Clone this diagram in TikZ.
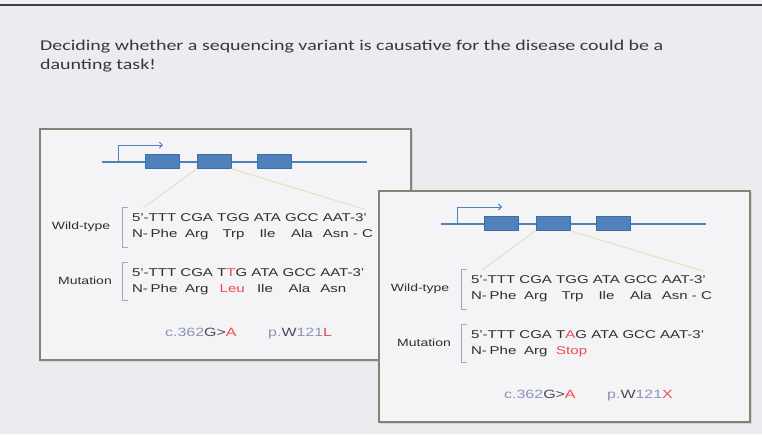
\documentclass[tikz,border=0pt]{standalone}
\usepackage{fontspec}
\setmainfont{Liberation Sans}
\newfontfamily\titlefont{Carlito}
\usepackage{graphicx}
\usetikzlibrary{arrows.meta}
\definecolor{bg}{HTML}{ECEBEF}
\definecolor{boxfill}{HTML}{F4F4F6}
\definecolor{boxline}{HTML}{858474}
\definecolor{exon}{HTML}{4F81BD}
\definecolor{exonline}{HTML}{3E6DA6}
\definecolor{zoomline}{HTML}{E2DDB0}
\definecolor{brk}{HTML}{A4A8BC}
\definecolor{txt}{HTML}{2E2E30}
\definecolor{mut}{HTML}{EE4A50}
\definecolor{hgvs}{HTML}{8A94B8}
\definecolor{hgvsdark}{HTML}{4A4B55}
\newcommand{\stx}[1]{\scalebox{1.33}[1]{#1}}
\newcommand{\cgap}{4.2pt}
\newcommand{\dnarow}[4]{%
  \node[dna] (#1-0) at (#2,#3) {\stx{5'-}};
  \node[dna] (#1-1) at (#1-0.base east) {\stx{TTT}};
  \node[dna] (#1-2) at ([xshift=\cgap]#1-1.base east) {\stx{CGA}};
  \node[dna] (#1-3) at ([xshift=\cgap]#1-2.base east) {\stx{#4}};
  \node[dna] (#1-4) at ([xshift=\cgap]#1-3.base east) {\stx{ATA}};
  \node[dna] (#1-5) at ([xshift=\cgap]#1-4.base east) {\stx{GCC}};
  \node[dna] (#1-6) at ([xshift=\cgap]#1-5.base east) {\stx{AAT-3'}};
}
\newcommand{\genepart}[1]{%
  \coordinate (#1-g0) at (102,162);
  \coordinate (#1-g1) at (367,162);
  \draw[geneline] (#1-g0) -- (#1-g1);
  \coordinate (#1-p0) at (118,162);
  \coordinate (#1-p1) at (118,145);
  \coordinate (#1-p2) at (163,145);
  \draw[promoter] (#1-p0) -- (#1-p1) -- (#1-p2);
  \node[exonbox] (#1-e1) at (162.5,161.5) {};
  \node[exonbox] (#1-e2) at (214,161.5) {};
  \node[exonbox] (#1-e3) at (274,161.5) {};
  \coordinate (#1-z1) at (143,208);
  \coordinate (#1-z2) at (364,209);
  \draw[zline] (#1-e2.south west) -- (#1-z1);
  \draw[zline] (#1-e2.south east) -- (#1-z2);
  \draw[brack] (128,207) -- (122,207) -- (122,247) -- (128,247);
  \draw[brack] (128,262) -- (122,262) -- (122,300) -- (128,300);
  \node[lbl] (#1-wt) at (81,227) {\stx{Wild-type}};
  \node[lbl] (#1-mu) at (85,281) {\stx{Mutation}};
}
\begin{document}
\begin{tikzpicture}[x=1pt,y=-1pt,
  dna/.style={inner sep=0, outer sep=0, text=txt, anchor=base west, font=\fontsize{11.3}{13}\selectfont},
  prot/.style={inner sep=0, outer sep=0, text=txt, anchor=base, font=\fontsize{11.3}{13}\selectfont},
  protw/.style={prot, anchor=base west},
  lbl/.style={inner sep=0, text=txt, font=\fontsize{10.5}{12}\selectfont},
  code/.style={inner sep=0, anchor=base west, font=\fontsize{12}{14}\selectfont},
  panelbox/.style={draw=boxline, line width=1.5pt, fill=boxfill, anchor=north west, minimum width=371pt, minimum height=231pt, inner sep=0},
  shadowbox/.style={fill=black!22, draw=none, anchor=north west, minimum width=372pt, minimum height=232pt, inner sep=0, opacity=0.6},
  exonbox/.style={fill=exon, draw=exonline, line width=0.6pt, minimum width=34pt, minimum height=14pt, inner sep=0},
  geneline/.style={draw=exon, line width=1.4pt},
  promoter/.style={draw=exon, line width=0.9pt, -{Straight Barb[length=3pt,width=6pt]}},
  zline/.style={draw=zoomline, line width=0.8pt},
  brack/.style={draw=brk, line width=0.9pt}]
\useasboundingbox (0,0) rectangle (762,434);
\fill[bg] (0,0) rectangle (762,434);
\fill[black!6] (0,0) rectangle (762,4.5);
\draw[black!75, line width=1.5pt] (0,5) -- (762,5);
\node[anchor=base west, inner sep=0, font=\titlefont\fontsize{15}{19}\selectfont, text=black!78] (title1) at (40,50)
  {\stx{Deciding whether a sequencing variant is causative for the disease could be a}};
\node[anchor=base west, inner sep=0, font=\titlefont\fontsize{15}{19}\selectfont, text=black!78] (title2) at (40,69)
  {\stx{daunting task!}};
% ---------- left panel ----------
\node[shadowbox] (L-shadow) at (41,130) {};
\node[panelbox] (L-box) at (39,128) {};
\genepart{L}
\dnarow{LW}{132}{221}{TGG}
\node[protw] (LWp0) at ([yshift=-16pt]LW-0.base west) {\stx{N-}};
\node[protw] (LWp1) at ([yshift=-16pt,xshift=2pt]LW-1.base west) {\stx{Phe}};
\node[prot] (LWp2) at ([yshift=-16pt]LW-2.base) {\stx{Arg}};
\node[prot] (LWp3) at ([yshift=-16pt]LW-3.base) {\stx{Trp}};
\node[prot] (LWp4) at ([yshift=-16pt]LW-4.base) {\stx{Ile}};
\node[prot] (LWp5) at ([yshift=-16pt]LW-5.base) {\stx{Ala}};
\node[protw] (LWp6) at ([yshift=-16pt]LW-6.base west) {\stx{Asn - C}};
\dnarow{LM}{132}{276}{T\textcolor{mut}{T}G}
\node[protw] (LMp0) at ([yshift=-16pt]LM-0.base west) {\stx{N-}};
\node[protw] (LMp1) at ([yshift=-16pt,xshift=2pt]LM-1.base west) {\stx{Phe}};
\node[prot] (LMp2) at ([yshift=-16pt]LM-2.base) {\stx{Arg}};
\node[prot, text=mut] (LMp3) at ([yshift=-16pt]LM-3.base) {\stx{Leu}};
\node[prot] (LMp4) at ([yshift=-16pt]LM-4.base) {\stx{Ile}};
\node[prot] (LMp5) at ([yshift=-16pt]LM-5.base) {\stx{Ala}};
\node[protw] (LMp6) at ([yshift=-16pt]LM-6.base west) {\stx{Asn}};
\node[code] (L-c) at (165,336) {\stx{\textcolor{hgvs}{c.362}\textcolor{hgvsdark}{G>}\textcolor{mut}{A}}};
\node[code] (L-p) at (268,336) {\stx{\textcolor{hgvs}{p.}\textcolor{hgvsdark}{W}\textcolor{hgvs}{121}\textcolor{mut}{L}}};
% ---------- right panel ----------
\begin{scope}[shift={(339,62)}]
\node[shadowbox] (R-shadow) at (41,130) {};
\node[panelbox] (R-box) at (39,128) {};
\genepart{R}
\dnarow{RW}{132}{221}{TGG}
\node[protw] (RWp0) at ([yshift=-16pt]RW-0.base west) {\stx{N-}};
\node[protw] (RWp1) at ([yshift=-16pt,xshift=2pt]RW-1.base west) {\stx{Phe}};
\node[prot] (RWp2) at ([yshift=-16pt]RW-2.base) {\stx{Arg}};
\node[prot] (RWp3) at ([yshift=-16pt]RW-3.base) {\stx{Trp}};
\node[prot] (RWp4) at ([yshift=-16pt]RW-4.base) {\stx{Ile}};
\node[prot] (RWp5) at ([yshift=-16pt]RW-5.base) {\stx{Ala}};
\node[protw] (RWp6) at ([yshift=-16pt]RW-6.base west) {\stx{Asn - C}};
\dnarow{RM}{132}{276}{T\textcolor{mut}{A}G}
\node[protw] (RMp0) at ([yshift=-16pt]RM-0.base west) {\stx{N-}};
\node[protw] (RMp1) at ([yshift=-16pt,xshift=2pt]RM-1.base west) {\stx{Phe}};
\node[prot] (RMp2) at ([yshift=-16pt]RM-2.base) {\stx{Arg}};
\node[prot, text=mut] (RMp3) at ([yshift=-16pt]RM-3.base) {\stx{Stop}};
\node[code] (R-c) at (165,336) {\stx{\textcolor{hgvs}{c.362}\textcolor{hgvsdark}{G>}\textcolor{mut}{A}}};
\node[code] (R-p) at (268,336) {\stx{\textcolor{hgvs}{p.}\textcolor{hgvsdark}{W}\textcolor{hgvs}{121}\textcolor{mut}{X}}};
\end{scope}
\end{tikzpicture}
\end{document}
